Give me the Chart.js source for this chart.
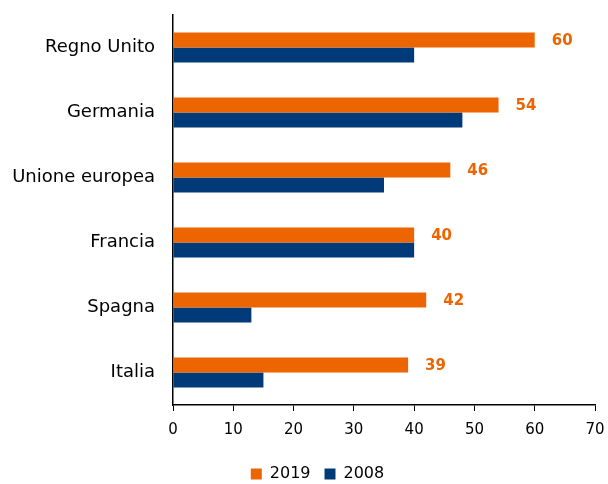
<!DOCTYPE html>
<html><head><meta charset="utf-8">
<script src="https://cdn.jsdelivr.net/npm/chart.js@4"></script>
<style>html,body{margin:0;padding:0;background:#fff}#wrap{width:608px;height:484px}</style>
</head><body><div id="wrap"><canvas id="c"></canvas></div>
<script>
const categories = ["Regno Unito", "Germania", "Unione europea", "Francia", "Spagna", "Italia"];
const values2019 = [60, 54, 46, 40, 42, 39];
const values2008 = [40, 48, 35, 40, 13, 15];
const seriesNames = ["2019", "2008"];
const xTicks = [0, 10, 20, 30, 40, 50, 60, 70];

const ORANGE = '#EC6500';
const BLUE = '#003A78';
const FONT = 'DejaVu Sans';

const labelPlugin = {
  id: 'valueLabels',
  afterDatasetsDraw(chart) {
    const ctx = chart.ctx;
    const meta = chart.getDatasetMeta(0);
    ctx.save();
    ctx.fillStyle = ORANGE;
    ctx.font = 'bold 15px ' + FONT;
    ctx.textAlign = 'left';
    ctx.textBaseline = 'middle';
    meta.data.forEach((el, i) => {
      ctx.fillText(String(values2019[i]), el.x + 17, el.y + 1);
    });
    ctx.restore();
  }
};

const legendShift = {
  id: 'legendShift',
  afterLayout(chart) {
    const lg = chart.legend;
    if (lg) { lg.left += 20; lg.right += 20; lg.top += 8; lg.bottom += 8; }
  }
};

new Chart(document.getElementById('c'), {
  type: 'bar',
  data: {
    labels: categories,
    datasets: [
      { label: seriesNames[0], data: values2019, backgroundColor: ORANGE, categoryPercentage: 0.46, barPercentage: 1 },
      { label: seriesNames[1], data: values2008, backgroundColor: BLUE, categoryPercentage: 0.46, barPercentage: 1 }
    ]
  },
  options: {
    indexAxis: 'y',
    responsive: true,
    maintainAspectRatio: false,
    animation: false,
    layout: { padding: { left: 0, right: 13, top: 15, bottom: 0 } },
    plugins: {
      legend: {
        position: 'bottom',
        labels: { boxWidth: 11, boxHeight: 11, padding: 14, color: '#000', font: { family: FONT, size: 16 } }
      },
      tooltip: { enabled: false }
    },
    scales: {
      x: {
        min: 0, max: 70,
        afterBuildTicks(axis) { axis.ticks = xTicks.map(v => ({ value: v })); },
        grid: { drawOnChartArea: false, drawTicks: true, tickLength: 6, color: '#000' },
        border: { color: '#000', width: 1.5 },
        ticks: { padding: 10, color: '#000', font: { family: FONT, size: 15 }, maxRotation: 0 },
        afterFit(axis) { axis.height = 39; axis.paddingLeft = 0; axis.paddingRight = 0; }
      },
      y: {
        grid: { drawOnChartArea: false, drawTicks: false },
        border: { color: '#000', width: 1.5 },
        ticks: { padding: 18, color: '#000', font: { family: FONT, size: 18 } },
        afterFit(axis) { axis.width = 173; axis.paddingTop = 0; axis.paddingBottom = 0; }
      }
    }
  },
  plugins: [labelPlugin, legendShift]
});
</script></body></html>
